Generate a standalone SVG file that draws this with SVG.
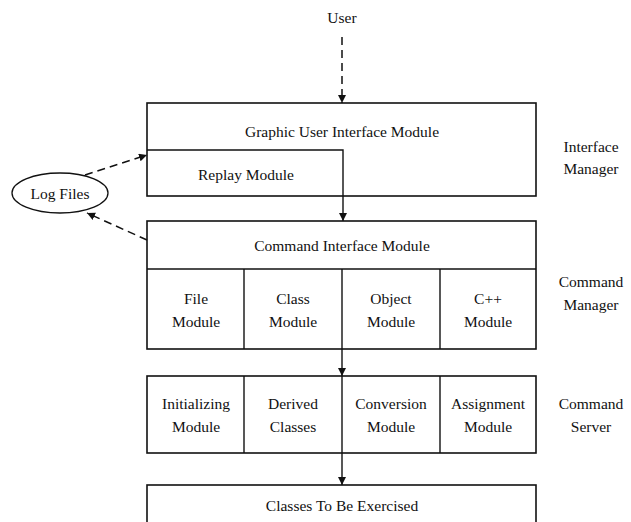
<svg xmlns="http://www.w3.org/2000/svg" width="631" height="522" viewBox="0 0 631 522">
<style>
text{font-family:"Liberation Serif","Times New Roman",serif;font-size:15.5px;fill:#111;text-anchor:middle;dominant-baseline:central}
.box{fill:#fff;stroke:#111;stroke-width:1.6}
.ln{fill:none;stroke:#111;stroke-width:1.4}
.dash{fill:none;stroke:#111;stroke-width:1.5;stroke-dasharray:8 5}
</style>
<defs>
<marker id="ah" viewBox="0 0 10 10" refX="10" refY="5" markerWidth="8" markerHeight="8" markerUnits="userSpaceOnUse" orient="auto">
<path d="M0,0 L10,5 L0,10 z" fill="#111"/>
</marker>
</defs>
<rect width="631" height="522" fill="#fff"/>
<g id="user"><text x="342" y="17">User</text></g>
<g id="gui">
<rect class="box" x="147" y="103" width="389" height="93"/>
<text x="342" y="131">Graphic User Interface Module</text>
</g>
<g id="replay">
<path class="ln" d="M147,150 H343 V196"/>
<text x="246" y="174">Replay Module</text>
</g>
<g id="interface-manager"><text x="591" y="146">Interface</text><text x="591" y="168">Manager</text></g>
<g id="logfiles">
<ellipse cx="60" cy="193" rx="48" ry="20" fill="#fff" stroke="#111" stroke-width="1.3"/>
<text x="60" y="193">Log Files</text>
</g>
<g id="command">
<rect class="box" x="147" y="221" width="389" height="128"/>
<line class="ln" x1="147" y1="269" x2="536" y2="269"/>
<line class="ln" x1="244" y1="269" x2="244" y2="349"/>
<line class="ln" x1="342" y1="269" x2="342" y2="349"/>
<line class="ln" x1="440" y1="269" x2="440" y2="349"/>
<text x="342" y="245">Command Interface Module</text>
<text x="196" y="298">File</text><text x="196" y="321">Module</text>
<text x="293" y="298">Class</text><text x="293" y="321">Module</text>
<text x="391" y="298">Object</text><text x="391" y="321">Module</text>
<text x="488" y="298">C++</text><text x="488" y="321">Module</text>
</g>
<g id="command-manager"><text x="591" y="281">Command</text><text x="591" y="304">Manager</text></g>
<g id="server">
<rect class="box" x="147" y="376" width="389" height="77"/>
<line class="ln" x1="244" y1="376" x2="244" y2="453"/>
<line class="ln" x1="440" y1="376" x2="440" y2="453"/>
<text x="196" y="403">Initializing</text><text x="196" y="426">Module</text>
<text x="293" y="403">Derived</text><text x="293" y="426">Classes</text>
<text x="391" y="403">Conversion</text><text x="391" y="426">Module</text>
<text x="488" y="403">Assignment</text><text x="488" y="426">Module</text>
</g>
<g id="command-server"><text x="591" y="403">Command</text><text x="591" y="426">Server</text></g>
<g id="classes">
<rect class="box" x="147" y="485" width="389" height="45"/>
<text x="342" y="505">Classes To Be Exercised</text>
</g>
<g id="connectors">
<line class="dash" x1="342" y1="37" x2="342" y2="103" marker-end="url(#ah)"/>
<line class="ln" x1="343" y1="196" x2="343" y2="221" marker-end="url(#ah)"/>
<line class="ln" x1="342" y1="349" x2="342" y2="376" marker-end="url(#ah)"/>
<line class="ln" x1="342" y1="376" x2="342" y2="485" marker-end="url(#ah)"/>
<line class="dash" x1="85" y1="175" x2="147" y2="155" marker-end="url(#ah)"/>
<line class="dash" x1="147" y1="240" x2="87" y2="213" marker-end="url(#ah)"/>
</g>
</svg>
